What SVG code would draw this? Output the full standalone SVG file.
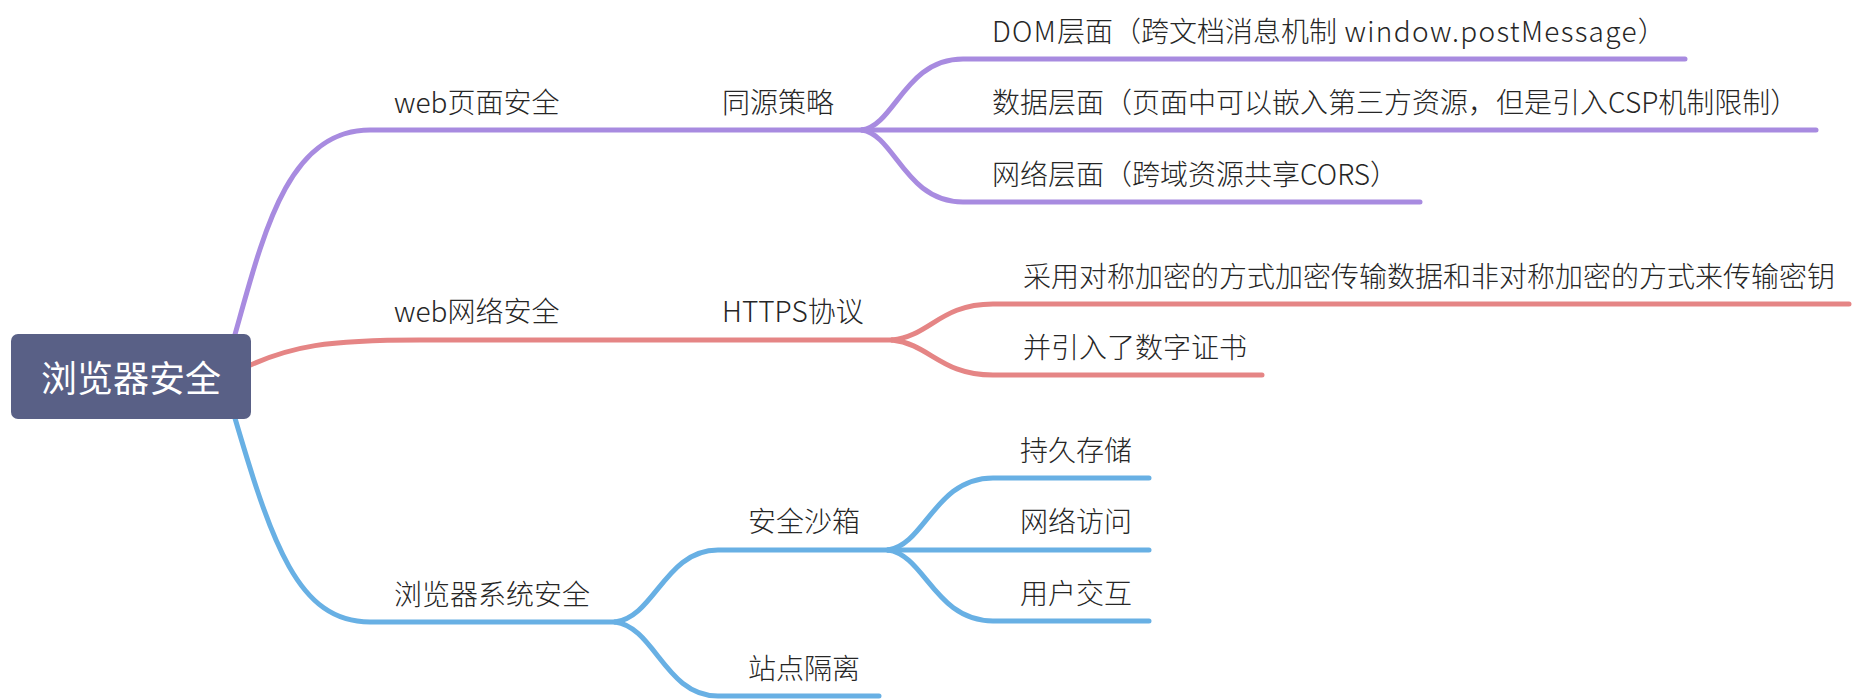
<svg xmlns="http://www.w3.org/2000/svg" width="1858" height="700" viewBox="0 0 1858 700">
<style>
.c{fill:none;stroke-width:5;stroke-linecap:round;stroke-linejoin:round}
.p{stroke:#a88be0}
.r{stroke:#e58585}
.b{stroke:#68b0e4}
.t{font-family:"Noto Sans CJK SC","Noto Sans",sans-serif;font-size:28px;font-weight:300;fill:#262626}
.lat{letter-spacing:1.3px}
.root{font-family:"Noto Sans CJK SC","Noto Sans",sans-serif;font-size:36px;fill:#ffffff}
</style>
<rect width="1858" height="700" fill="#ffffff"/>
<g id="connectors">
<path class="c p" d="M232,345 C262,240 285,130 370,130 L862,130"/>
<path class="c p" d="M862,130 C895,125 905,59 963,59 L1685,59"/>
<path class="c p" d="M862,130 L1816,130"/>
<path class="c p" d="M862,130 C895,135 905,202 963,202 L1420,202"/>
<path class="c r" d="M240,370 C290,345 330,340 420,340 L892,340"/>
<path class="c r" d="M892,340 C930,336 940,304 993,304 L1849,304"/>
<path class="c r" d="M892,340 C930,344 940,375 993,375 L1262,375"/>
<path class="c b" d="M232,408 C272,545 298,622 370,622 L615,622"/>
<path class="c b" d="M615,622 C655,617 665,550 718,550 L888,550"/>
<path class="c b" d="M615,622 C655,627 665,696 718,696 L879,696"/>
<path class="c b" d="M888,550 C925,545 935,478 993,478 L1149,478"/>
<path class="c b" d="M888,550 L1149,550"/>
<path class="c b" d="M888,550 C925,555 935,621 993,621 L1149,621"/>
</g>
<g id="root">
<rect x="11" y="334" width="240" height="85" rx="7" fill="#596086"/>
<text class="root" x="131" y="392" text-anchor="middle">浏览器安全</text>
</g>
<g id="n-web-page"><text class="t" x="394" y="113">web页面安全</text></g>
<g id="n-sop"><text class="t" x="722" y="113">同源策略</text></g>
<g id="n-dom"><text class="t" x="992" y="42"><tspan class="lat">DOM</tspan>层面（跨文档消息机制<tspan class="lat"> window.postMessage</tspan>）</text></g>
<g id="n-data"><text class="t" x="992" y="113">数据层面（页面中可以嵌入第三方资源，但是引入CSP机制限制）</text></g>
<g id="n-net"><text class="t" x="992" y="185">网络层面（跨域资源共享CORS）</text></g>
<g id="n-web-net"><text class="t" x="394" y="322">web网络安全</text></g>
<g id="n-https"><text class="t" x="722" y="322">HTTPS协议</text></g>
<g id="n-sym"><text class="t" x="1023" y="287">采用对称加密的方式加密传输数据和非对称加密的方式来传输密钥</text></g>
<g id="n-cert"><text class="t" x="1023" y="358">并引入了数字证书</text></g>
<g id="n-sys"><text class="t" x="394" y="605">浏览器系统安全</text></g>
<g id="n-sandbox"><text class="t" x="748" y="532">安全沙箱</text></g>
<g id="n-storage"><text class="t" x="1020" y="461">持久存储</text></g>
<g id="n-access"><text class="t" x="1020" y="532">网络访问</text></g>
<g id="n-interact"><text class="t" x="1020" y="604">用户交互</text></g>
<g id="n-isolation"><text class="t" x="748" y="679">站点隔离</text></g>
</svg>
